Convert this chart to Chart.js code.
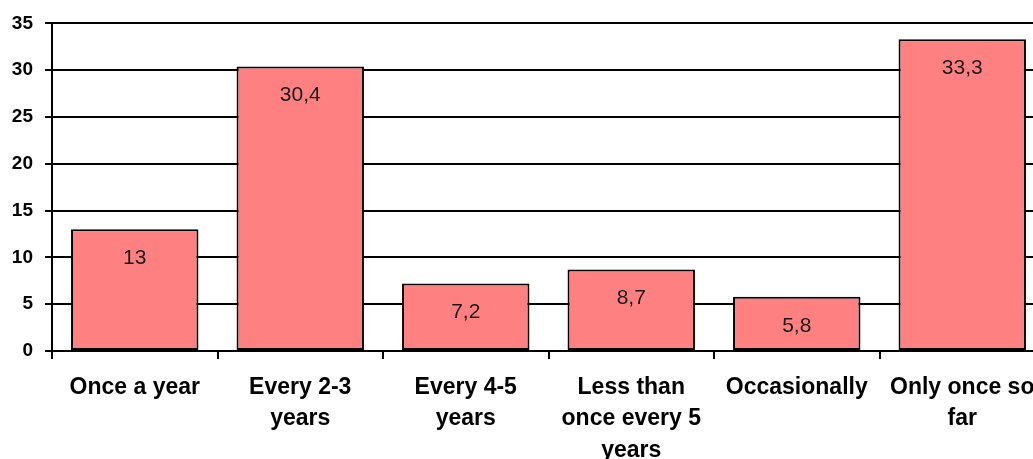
<!DOCTYPE html>
<html>
<head>
<meta charset="utf-8">
<script src="https://cdn.jsdelivr.net/npm/chart.js@4/dist/chart.umd.min.js"></script>
<style>
  html, body { margin: 0; padding: 0; background: #fff; overflow: hidden; }
  #wrap { position: relative; width: 1050px; height: 459px; }
</style>
</head>
<body>
<div id="wrap"><canvas id="grafico"></canvas></div>
<script>
// categorias y porcentajes
const categorias = [
  "Once a year",
  ["Every 2-3", "years"],
  ["Every 4-5", "years"],
  ["Less than", "once every 5", "years"],
  "Occasionally",
  ["Only once so", "far"]
];
const valores = [13, 30.4, 7.2, 8.7, 5.8, 33.3];
const marcasY = [0, 5, 10, 15, 20, 25, 30, 35];

// numero con coma decimal
function conComa(v) {
  return String(v).replace(".", ",");
}

// etiqueta del valor dentro de cada barra, cerca del borde superior
const etiquetasBarras = {
  id: "etiquetasBarras",
  afterDatasetsDraw(chart) {
    const ctx = chart.ctx;
    const meta = chart.getDatasetMeta(0);
    ctx.save();
    ctx.font = "21px 'Liberation Sans', Arial, sans-serif";
    ctx.fillStyle = "#1a1a1a";
    ctx.textAlign = "center";
    ctx.textBaseline = "middle";
    meta.data.forEach((barra, i) => {
      ctx.fillText(conComa(valores[i]), barra.x, barra.y + 29);
    });
    ctx.restore();
  }
};

const ctx = document.getElementById("grafico");
new Chart(ctx, {
  type: "bar",
  data: {
    labels: categorias,
    datasets: [{
      data: valores,
      backgroundColor: "#FF8080",
      borderColor: "#000",
      borderWidth: 2,
      borderSkipped: false,
      categoryPercentage: 1,
      barPercentage: 0.77
    }]
  },
  options: {
    responsive: true,
    maintainAspectRatio: false,
    animation: false,
    layout: { padding: { top: 23, right: 5, left: 0, bottom: 0 } },
    plugins: {
      legend: { display: false },
      tooltip: { enabled: false },
      title: { display: false }
    },
    scales: {
      x: {
        offset: true,
        grid: {
          offset: true,
          drawOnChartArea: false,
          drawTicks: true,
          tickLength: 8,
          color: "#000",
          lineWidth: 2
        },
        border: { display: true, color: "#000", width: 2 },
        ticks: {
          color: "#000",
          padding: 13,
          maxRotation: 0,
          autoSkip: false,
          font: { family: "'Liberation Sans', Arial, sans-serif", size: 23, weight: "bold", lineHeight: 1.36 }
        },
        afterFit(scale) { scale.height = 108; }
      },
      y: {
        min: 0,
        max: 35,
        afterBuildTicks(scale) {
          scale.ticks = marcasY.map(v => ({ value: v }));
        },
        grid: {
          color: "#000",
          lineWidth: 2,
          tickLength: 7
        },
        border: { display: true, color: "#000", width: 2 },
        ticks: {
          color: "#000",
          padding: 12,
          font: { family: "'Liberation Sans', Arial, sans-serif", size: 19, weight: "bold" }
        },
        afterFit(scale) { scale.width = 52; }
      }
    }
  },
  plugins: [etiquetasBarras]
});
</script>
</body>
</html>
